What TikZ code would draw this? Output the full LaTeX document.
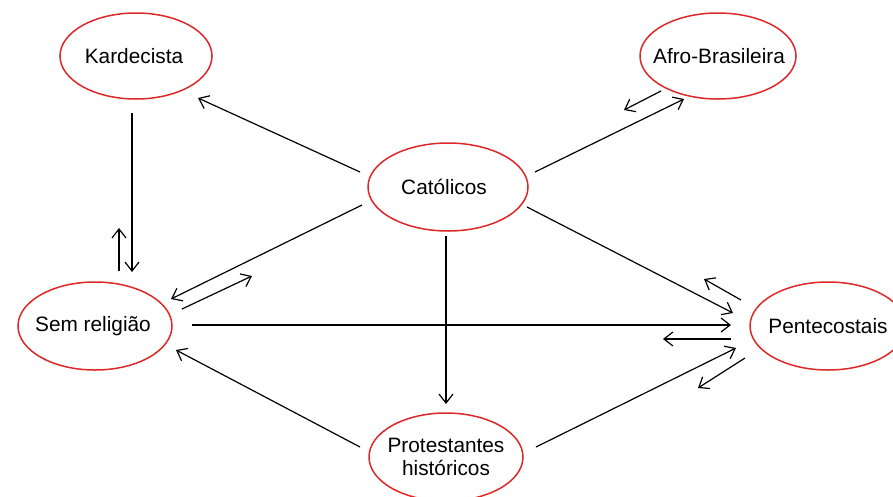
\documentclass[tikz,border=0pt]{standalone}
\usepackage{fontspec}
\setmainfont{Liberation Sans}
\usetikzlibrary{arrows.meta}
\definecolor{ellred}{RGB}{222,40,40}
\tikzset{
  rel/.style={inner sep=0pt, font=\fontsize{20.8}{24}\selectfont, align=center},
  ring/.style={draw=ellred, line width=1.5pt},
  con/.style={line width=1.2pt, -{Straight Barb[length=9pt,width=14pt,line width=1.2pt]}}
}
\begin{document}
\begin{tikzpicture}[x=1pt,y=-1pt]
\useasboundingbox (0,0) rectangle (893,496);
\clip (0,0) rectangle (893,496);
\node[rel] (kar) at (134,56) {Kardecista};
\node[rel] (afro) at (719,56) {Afro-Brasileira};
\node[rel] (cat) at (444,187) {Católicos};
\node[rel] (sem) at (93,326) {Sem religião};
\node[rel] (pent) at (828,326) {Pentecostais};
\node[rel] (prot) at (446,457) {Protestantes\\[-1pt]históricos};
\draw[ring] (136,56) ellipse [x radius=76, y radius=43];
\draw[ring] (718,56) ellipse [x radius=78, y radius=43];
\draw[ring] (448,187) ellipse [x radius=80, y radius=44];
\draw[ring] (95,326) ellipse [x radius=77, y radius=44];
\draw[ring] (828,326) ellipse [x radius=78, y radius=44];
\draw[ring] (446,457) ellipse [x radius=77, y radius=44];
% endpoints
\coordinate (c1) at (360,172); \coordinate (k1) at (198,98);
\coordinate (k2) at (132,113); \coordinate (s1) at (132,272);
\coordinate (s2) at (119,271); \coordinate (s3) at (119,228);
\coordinate (c2) at (362,205); \coordinate (s4) at (171,299);
\coordinate (s5) at (182,309); \coordinate (s6) at (252,276);
\coordinate (c3) at (535,172); \coordinate (a1) at (684,99);
\coordinate (a2) at (661,91); \coordinate (a3) at (624,110);
\coordinate (c4) at (446,236); \coordinate (p1) at (446,404);
\coordinate (c5) at (527,207); \coordinate (e1) at (733,313);
\coordinate (e2) at (741,300); \coordinate (e3) at (704,279);
\coordinate (s7) at (192,325); \coordinate (e4) at (731,325);
\coordinate (e5) at (731,339); \coordinate (e6) at (663,339);
\coordinate (p2) at (536,447); \coordinate (e7) at (736,348);
\coordinate (e8) at (745,358); \coordinate (e9) at (698,388);
\coordinate (p3) at (360,447); \coordinate (s8) at (176,350);
% connectors
\draw[con] (c1) -- (k1);
\draw[con] (k2) -- (s1);
\draw[con] (s2) -- (s3);
\draw[con] (c2) -- (s4);
\draw[con] (s5) -- (s6);
\draw[con] (c3) -- (a1);
\draw[con] (a2) -- (a3);
\draw[con] (c4) -- (p1);
\draw[con] (c5) -- (e1);
\draw[con] (e2) -- (e3);
\draw[con] (s7) -- (e4);
\draw[con] (e5) -- (e6);
\draw[con] (p2) -- (e7);
\draw[con] (e8) -- (e9);
\draw[con] (p3) -- (s8);
\end{tikzpicture}
\end{document}
